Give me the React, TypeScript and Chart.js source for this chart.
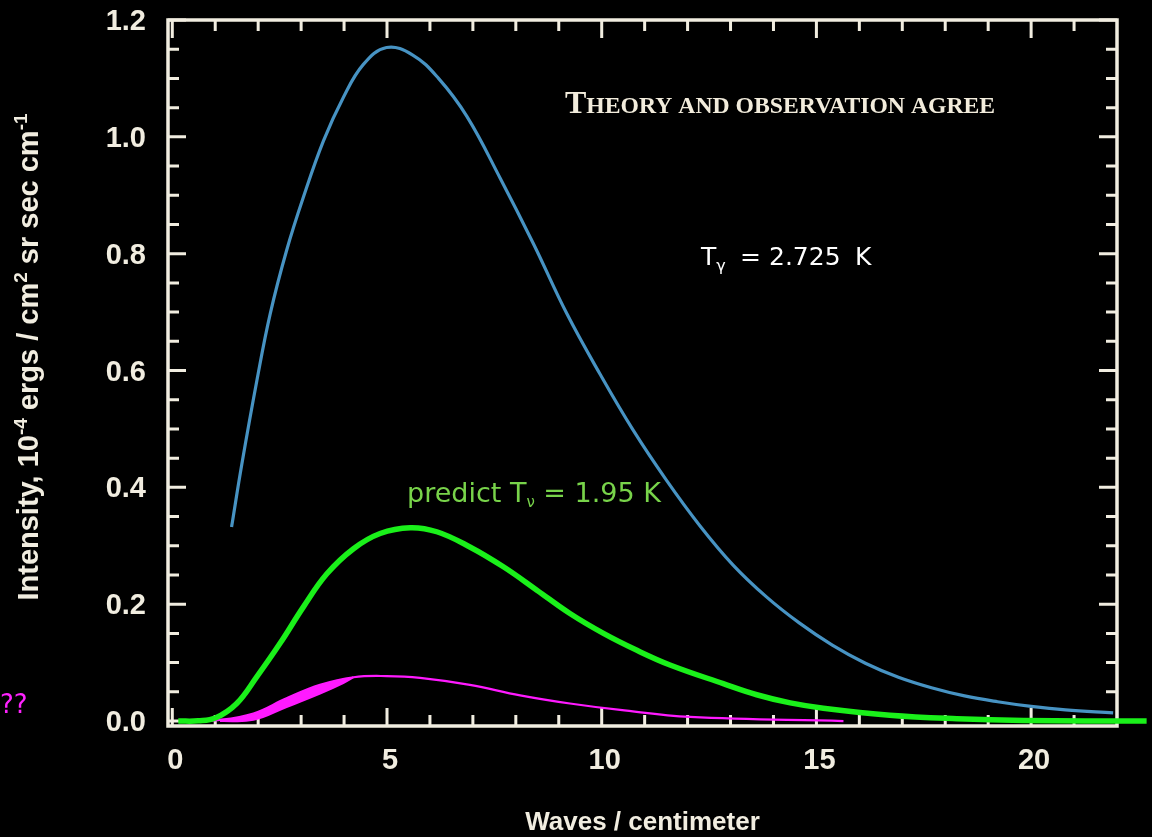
import { useEffect, useRef } from "react";
import { Chart, registerables } from "chart.js";

Chart.register(...registerables);

// Axis ranges and labelled ticks
const xRange = [-0.1, 22];
const yRange = [-0.0085, 1.2];
const xTickValues = [0, 5, 10, 15, 20];
const yTickValues = [0, 0.2, 0.4, 0.6, 0.8, 1.0, 1.2];

// Photon (CMB) spectrum, T = 2.725 K
const photonWave = [1.38, 1.62, 1.97, 2.28, 2.66, 3.05, 3.52, 3.98, 4.45, 4.99, 5.6, 6.2, 6.86, 7.63, 8.41, 9.19, 9.96, 10.74, 11.51, 12.29, 13.06, 13.83, 14.6, 15.37, 16.14, 16.91, 17.68, 18.45, 19.22, 20.0, 20.8, 21.91];
const photonIntensity = [0.332, 0.44, 0.583, 0.697, 0.805, 0.896, 0.993, 1.067, 1.124, 1.153, 1.14, 1.1, 1.035, 0.93, 0.817, 0.697, 0.594, 0.497, 0.412, 0.334, 0.267, 0.213, 0.168, 0.13, 0.099, 0.075, 0.057, 0.043, 0.033, 0.025, 0.019, 0.014];

// Predicted neutrino spectrum, T = 1.95 K
const neutrinoWave = [0.14, 0.6, 1.0, 1.5, 1.97, 2.51, 3.05, 3.6, 4.22, 4.84, 5.54, 6.16, 6.93, 7.71, 8.49, 9.26, 10.04, 10.82, 11.59, 12.83, 13.61, 14.39, 15.16, 16.71, 18.27, 19.82, 22.69];
const neutrinoIntensity = [0.0, 0.0003, 0.005, 0.03, 0.076, 0.133, 0.195, 0.252, 0.295, 0.321, 0.331, 0.324, 0.298, 0.264, 0.224, 0.184, 0.15, 0.121, 0.096, 0.064, 0.045, 0.031, 0.022, 0.01, 0.004, 0.001, 0.0];

// Unknown ("??") spectrum: upper edge and lower edge of the band
const unknownWave = [0.35, 1.11, 1.89, 2.66, 3.44, 4.22, 4.99, 5.77, 6.93, 8.1, 9.26, 10.43, 12.06, 15.63];
const unknownIntensity = [0.0, 0.002, 0.013, 0.039, 0.062, 0.075, 0.077, 0.074, 0.062, 0.044, 0.03, 0.019, 0.007, 0.0];
const unknownLowerWave = [1.11, 1.89, 2.66, 3.44, 3.98, 4.22];
const unknownLowerIntensity = [0.0, 0.002, 0.024, 0.047, 0.065, 0.075];

const AXIS_COLOR = "#f1ede0";
const SANS = '"Liberation Sans", Arial, sans-serif';
const HAND = '"DejaVu Sans", sans-serif';
const SERIF = '"Liberation Serif", serif';

const zip = (xs: number[], ys: number[]) => xs.map((x, i) => ({ x, y: ys[i] }));

// Frame around the plot with inward tick marks on all four sides
const framePlugin = {
  id: "frameTicks",
  beforeDatasetsDraw(chart: any) {
    const { ctx, chartArea: a, scales } = chart;
    const xs = scales.x;
    const ys = scales.y;
    ctx.save();
    ctx.strokeStyle = AXIS_COLOR;
    ctx.lineWidth = 3;
    ctx.beginPath();
    for (let v = 0; v <= 21; v++) {
      const px = xs.getPixelForValue(v);
      const len = v % 5 === 0 ? 18 : 11;
      ctx.moveTo(px, a.bottom);
      ctx.lineTo(px, a.bottom - len);
      ctx.moveTo(px, a.top);
      ctx.lineTo(px, a.top + len);
    }
    for (let k = 0; k <= 24; k++) {
      const py = ys.getPixelForValue(k * 0.05);
      const len = k % 4 === 0 ? 18 : 11;
      ctx.moveTo(a.left, py);
      ctx.lineTo(a.left + len, py);
      ctx.moveTo(a.right, py);
      ctx.lineTo(a.right - len, py);
    }
    ctx.stroke();
    ctx.lineWidth = 3.5;
    ctx.strokeRect(a.left, a.top, a.right - a.left, a.bottom - a.top);
    ctx.restore();
  },
};

type Piece = { t: string; size: number; x?: number; dy?: number; gap?: number };

// Lays text pieces out one after another (or at a given x), advancing by measured width
function drawRun(ctx: CanvasRenderingContext2D, pieces: Piece[], x: number, baseline: number, family: string, color: string) {
  ctx.fillStyle = color;
  ctx.textBaseline = "alphabetic";
  ctx.textAlign = "left";
  let cx = x;
  for (const p of pieces) {
    if (p.x !== undefined) cx = p.x;
    ctx.font = `${p.size}px ${family}`;
    ctx.fillText(p.t, cx, baseline + (p.dy || 0));
    cx += ctx.measureText(p.t).width + (p.gap || 0);
  }
}

// Titles and annotations
const textPlugin = {
  id: "annotations",
  afterDraw(chart: any) {
    const { ctx } = chart;
    ctx.save();

    // Rotated y-axis title with superscripts
    const ySegs = [
      { t: "Intensity, 10", sup: false },
      { t: "-4", sup: true },
      { t: " ergs / cm", sup: false },
      { t: "2", sup: true },
      { t: " sr sec cm", sup: false },
      { t: "-1", sup: true },
    ];
    const mainFont = `bold 29px ${SANS}`;
    const supFont = `bold 19px ${SANS}`;
    let total = 0;
    for (const s of ySegs) {
      ctx.font = s.sup ? supFont : mainFont;
      total += ctx.measureText(s.t).width;
    }
    ctx.translate(38, 357);
    ctx.rotate(-Math.PI / 2);
    ctx.fillStyle = AXIS_COLOR;
    ctx.textBaseline = "alphabetic";
    let cx = -total / 2;
    for (const s of ySegs) {
      ctx.font = s.sup ? supFont : mainFont;
      ctx.fillText(s.t, cx, s.sup ? -11 : 0);
      cx += ctx.measureText(s.t).width;
    }
    ctx.setTransform(1, 0, 0, 1, 0, 0);

    // Heading in small capitals
    ctx.fillStyle = "#f2ecdc";
    ctx.font = `bold 32px ${SERIF}`;
    ctx.fillText("T", 565, 113);
    const tw = ctx.measureText("T").width;
    ctx.font = `bold 23.7px ${SERIF}`;
    ctx.fillText("HEORY AND OBSERVATION AGREE", 565 + tw, 113);

    // Photon temperature
    drawRun(
      ctx,
      [
        { t: "T", size: 25, x: 701 },
        { t: "\u03b3", size: 16, dy: 6 },
        { t: "=", size: 25, x: 740 },
        { t: "2.725", size: 25, x: 769 },
        { t: "K", size: 25, x: 855 },
      ],
      701,
      265,
      HAND,
      "#ffffff"
    );

    // Predicted neutrino temperature
    drawRun(
      ctx,
      [
        { t: "predict T", size: 27 },
        { t: "\u03bd", size: 15, dy: 5 },
        { t: " = 1.95 K", size: 27 },
      ],
      407,
      502,
      HAND,
      "#78d34a"
    );

    // Unknown component marker
    drawRun(ctx, [{ t: "??", size: 26 }], 0, 713, HAND, "#ff22ff");

    ctx.restore();
  },
};

export default function App() {
  const canvasRef = useRef<HTMLCanvasElement | null>(null);

  useEffect(() => {
    const canvas = canvasRef.current;
    if (!canvas) return;
    const lineCommon = { pointRadius: 0, tension: 0.4, cubicInterpolationMode: "default" };
    const chart = new Chart(canvas, {
      type: "line",
      data: {
        datasets: [
          {
            ...lineCommon,
            label: "neutrino",
            data: zip(neutrinoWave, neutrinoIntensity),
            borderColor: "#1af01a",
            borderWidth: 5.5,
            fill: false,
            clip: false as any,
          },
          {
            ...lineCommon,
            label: "unknown",
            data: zip(unknownWave, unknownIntensity),
            borderColor: "#ff1aff",
            borderWidth: 2.2,
            fill: false,
          },
          {
            ...lineCommon,
            label: "unknown lower",
            data: zip(unknownLowerWave, unknownLowerIntensity),
            borderColor: "#ff1aff",
            backgroundColor: "#ff1aff",
            borderWidth: 2,
            fill: "-1",
          },
          {
            ...lineCommon,
            label: "photon",
            data: zip(photonWave, photonIntensity),
            borderColor: "#4793c3",
            borderWidth: 3.2,
            fill: false,
          },
        ],
      },
      options: {
        animation: false,
        responsive: true,
        maintainAspectRatio: false,
        layout: { autoPadding: false, padding: { top: 20, right: 35, left: 0, bottom: 0 } },
        plugins: {
          legend: { display: false },
          tooltip: { enabled: false },
        },
        scales: {
          x: {
            type: "linear",
            min: xRange[0],
            max: xRange[1],
            grid: { display: false, drawTicks: false },
            border: { display: false },
            afterBuildTicks: (scale: any) => {
              scale.ticks = xTickValues.map((v) => ({ value: v }));
            },
            afterFit: (scale: any) => {
              scale.height = 111;
              scale.paddingLeft = 0;
              scale.paddingRight = 0;
            },
            ticks: {
              color: AXIS_COLOR,
              padding: 18,
              labelOffset: 3,
              maxRotation: 0,
              autoSkip: false,
              font: { family: SANS, size: 29, weight: "bold" },
              callback: (v: any) => String(v),
            },
            title: {
              display: true,
              text: "Waves / centimeter",
              color: AXIS_COLOR,
              padding: { top: 1, bottom: 1 },
              font: { family: SANS, size: 26, weight: "bold", lineHeight: 1 },
            },
          },
          y: {
            type: "linear",
            min: yRange[0],
            max: yRange[1],
            grid: { display: false, drawTicks: false },
            border: { display: false },
            afterBuildTicks: (scale: any) => {
              scale.ticks = yTickValues.map((v) => ({ value: v }));
            },
            afterFit: (scale: any) => {
              scale.width = 168;
              scale.paddingTop = 0;
              scale.paddingBottom = 0;
            },
            ticks: {
              color: AXIS_COLOR,
              padding: 22,
              labelOffset: 2,
              autoSkip: false,
              font: { family: SANS, size: 29, weight: "bold" },
              callback: (v: any) => Number(v).toFixed(1),
            },
          },
        },
      },
      plugins: [framePlugin, textPlugin],
    } as any);
    return () => chart.destroy();
  }, []);

  return (
    <div style={{ position: "fixed", left: 0, top: 0, width: 1152, height: 837, background: "#000" }}>
      <canvas ref={canvasRef} />
    </div>
  );
}
